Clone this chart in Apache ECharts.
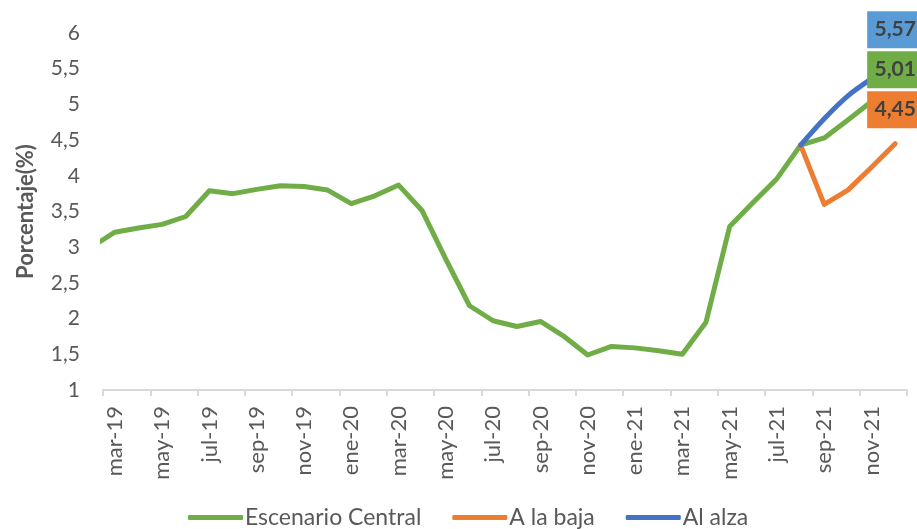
<!DOCTYPE html>
<html>
<head>
<meta charset="utf-8">
<script src="https://cdn.jsdelivr.net/npm/echarts@6/dist/echarts.min.js"></script>
<style>
  html, body { margin: 0; padding: 0; background: #fff; }
  #chart { width: 917px; height: 529px; }
</style>
</head>
<body>
<div id="chart"></div>
<script>
// months: feb-19 is only there so the line enters from the left edge (axis starts at mar-19)
const months = [
  'feb-19', 'mar-19', 'abr-19', 'may-19', 'jun-19', 'jul-19', 'ago-19', 'sep-19', 'oct-19', 'nov-19', 'dic-19',
  'ene-20', 'feb-20', 'mar-20', 'abr-20', 'may-20', 'jun-20', 'jul-20', 'ago-20', 'sep-20', 'oct-20', 'nov-20', 'dic-20',
  'ene-21', 'feb-21', 'mar-21', 'abr-21', 'may-21', 'jun-21', 'jul-21', 'ago-21', 'sep-21', 'oct-21', 'nov-21', 'dic-21'
]

const central = [
  3.00, 3.21, 3.27, 3.32, 3.43, 3.79, 3.75, 3.81, 3.86, 3.85, 3.80,
  3.61, 3.72, 3.87, 3.51, 2.83, 2.18, 1.97, 1.89, 1.96, 1.75, 1.49, 1.61,
  1.59, 1.55, 1.50, 1.95, 3.29, 3.63, 3.96, 4.43, 4.53, 4.78, 5.04, 5.01
]

// scenarios start at ago-21
const scenarioStart = 30
const baja = [4.43, 3.60, 3.80, 4.12, 4.45]
const alza = [4.43, 4.80, 5.12, 5.36, 5.57]

const yMin = 1
const yMax = 6
const yStep = 0.5

const pad = (arr) => months.map((m, i) => (i < scenarioStart ? '-' : arr[i - scenarioStart]))
const comma = (v) => String(v).replace('.', ',')

const chart = echarts.init(document.getElementById('chart'))

const endBox = (values, boxColor) => ({
  symbol: 'rect',
  symbolSize: [56, 37],
  symbolOffset: [0, -34],
  itemStyle: { color: boxColor },
  label: {
    show: true,
    position: 'inside',
    color: '#404040',
    fontFamily: 'Lato',
    fontWeight: 'bold',
    fontSize: 21,
    formatter: (p) => comma(p.value.toFixed(2))
  },
  data: [{ coord: [months[months.length - 1], values[values.length - 1]], value: values[values.length - 1] }]
})

const option = {
  animation: false,
  textStyle: { fontFamily: 'Lato' },
  grid: { left: 103, right: 10, top: 33, bottom: 139, containLabel: false },
  legend: {
    top: 501,
    left: 183,
    itemWidth: 55,
    itemHeight: 5,
    itemGap: 31,
    icon: 'roundRect',
    textStyle: { color: '#595959', fontSize: 23, fontFamily: 'Lato', padding: [0, 0, 0, -3] },
    data: ['Escenario Central', 'A la baja', 'Al alza']
  },
  xAxis: {
    type: 'category',
    data: months,
    min: 1,
    boundaryGap: true,
    axisLine: { lineStyle: { color: '#d9d9d9', width: 2 } },
    axisTick: {
      show: true,
      interval: (idx) => idx % 2 === 1,
      length: 6,
      lineStyle: { color: '#d9d9d9', width: 2 }
    },
    axisLabel: {
      interval: (idx) => idx % 2 === 1,
      rotate: 90,
      margin: 16,
      color: '#595959',
      fontSize: 22
    },
    splitLine: { show: false }
  },
  yAxis: {
    type: 'value',
    min: yMin,
    max: yMax,
    interval: yStep,
    name: 'Porcentaje(%)',
    nameLocation: 'middle',
    nameRotate: 90,
    nameGap: 66,
    nameTextStyle: { color: '#595959', fontSize: 22, fontWeight: 'bold', fontFamily: 'Lato' },
    axisLine: { show: false },
    axisTick: { show: false },
    splitLine: { show: false },
    axisLabel: {
      color: '#595959',
      fontSize: 21,
      margin: 23,
      formatter: (v) => comma(v)
    }
  },
  series: [
    {
      name: 'Escenario Central',
      type: 'line',
      data: central,
      showSymbol: false,
      symbol: 'none',
      clip: true,
      lineStyle: { color: '#70AD47', width: 5, join: 'round' },
      itemStyle: { color: '#70AD47' },
      markPoint: endBox(central, '#70AD47')
    },
    {
      name: 'A la baja',
      type: 'line',
      data: pad(baja),
      showSymbol: false,
      symbol: 'none',
      lineStyle: { color: '#ED7D31', width: 5, join: 'round', cap: 'round' },
      itemStyle: { color: '#ED7D31' },
      markPoint: endBox(baja, '#ED7D31')
    },
    {
      name: 'Al alza',
      type: 'line',
      data: pad(alza),
      showSymbol: false,
      symbol: 'none',
      smooth: 0.3,
      lineStyle: { color: '#4472C4', width: 5, join: 'round', cap: 'round' },
      itemStyle: { color: '#4472C4' },
      markPoint: endBox(alza, '#5B9BD5')
    }
  ]
}

chart.setOption(option)
</script>
</body>
</html>
